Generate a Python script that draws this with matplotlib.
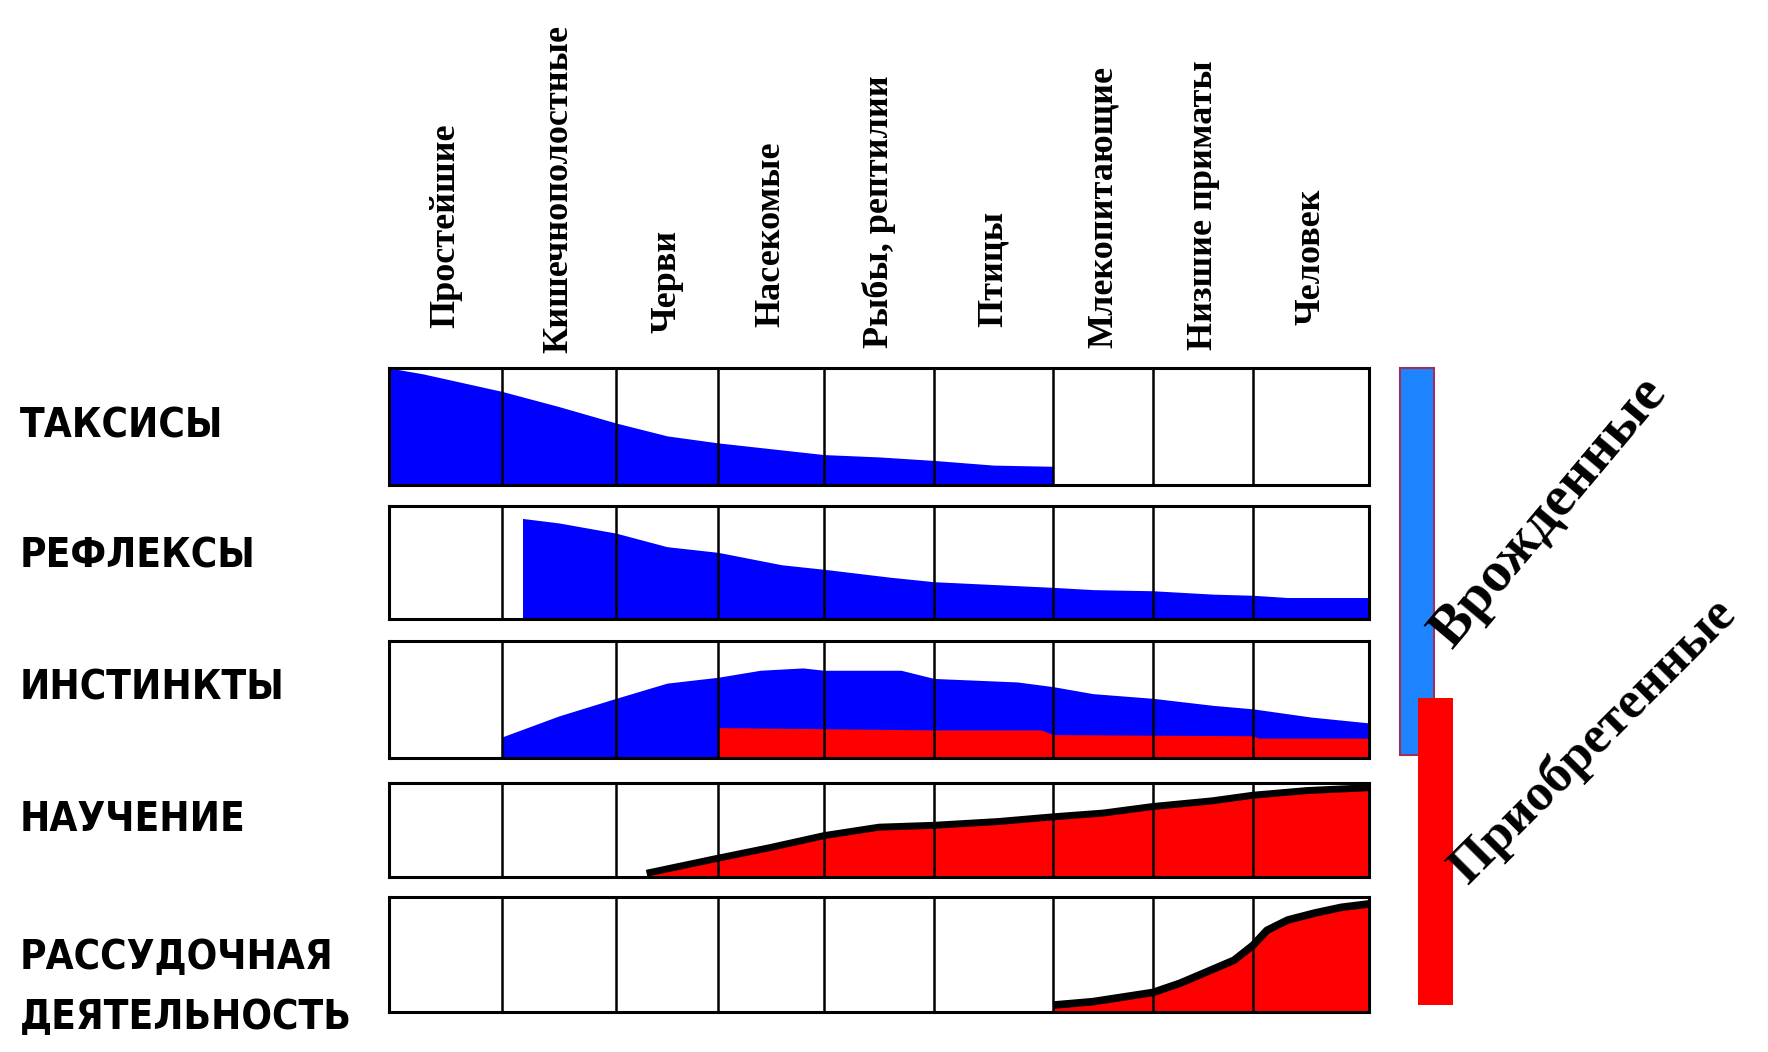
import numpy as np
import matplotlib
matplotlib.use("Agg")
import matplotlib.pyplot as plt
from matplotlib import transforms
from matplotlib.patches import Rectangle

# groups of animals (columns) and forms of behaviour (rows)
columns = ["Простейшие", "Кишечнополостные", "Черви", "Насекомые", "Рыбы, рептилии",
           "Птицы", "Млекопитающие", "Низшие приматы", "Человек"]
rows = ["ТАКСИСЫ", "РЕФЛЕКСЫ", "ИНСТИНКТЫ", "НАУЧЕНИЕ", "РАССУДОЧНАЯ\nДЕЯТЕЛЬНОСТЬ"]
side_labels = ["Врожденные", "Приобретенные"]

# profiles: x in column units (0..9), y as share of the row height
taxis_x = [0, 0.3, 1, 1.5, 2, 2.5, 3, 3.5, 4, 4.5, 5, 5.5, 6]
taxis_y = [1.0, 0.95, 0.80, 0.67, 0.53, 0.42, 0.36, 0.31, 0.26, 0.24, 0.21, 0.17, 0.16]

reflex_x = [1.18, 1.5, 2, 2.5, 3, 3.6, 4, 4.6, 5, 5.6, 6, 6.4, 7, 7.6, 8, 8.3, 9]
reflex_y = [0.89, 0.85, 0.76, 0.64, 0.59, 0.48, 0.44, 0.37, 0.33, 0.30, 0.28, 0.26,
            0.25, 0.22, 0.21, 0.19, 0.19]

instinct_x = [1, 1.5, 2, 2.5, 3, 3.4, 3.8, 4, 4.7, 5, 5.7, 6, 6.4, 7, 7.6, 8, 8.5, 9]
instinct_y = [0.18, 0.36, 0.51, 0.64, 0.69, 0.75, 0.77, 0.75, 0.75, 0.68, 0.65, 0.61,
              0.55, 0.51, 0.45, 0.42, 0.35, 0.30]
instinct_acq_x = [3, 4, 5, 5.9, 6, 8, 8.05, 9]
instinct_acq_y = [0.26, 0.25, 0.24, 0.24, 0.20, 0.19, 0.17, 0.17]

learning_x = [2.3, 3, 3.48, 4, 4.5, 5, 5.54, 6, 6.5, 7, 7.59, 8, 8.47, 9]
learning_y = [0.04, 0.20, 0.31, 0.44, 0.53, 0.55, 0.59, 0.64, 0.68, 0.75, 0.81, 0.87,
              0.92, 0.95]

reason_x = [6, 6.4, 6.7, 7, 7.27, 7.54, 7.81, 8, 8.12, 8.3, 8.53, 8.76, 9]
reason_y = [0.06, 0.09, 0.13, 0.17, 0.25, 0.35, 0.45, 0.58, 0.71, 0.80, 0.86, 0.91, 0.94]

BLUE = "#0000FF"
RED = "#FF0000"

# layout in pixels of the 1768x1052 picture
W, H = 1768, 1052
col_edges = np.array([389, 502, 616, 718, 824, 934, 1053, 1153, 1253, 1369])
row_tops = [368, 506, 641, 783, 897]
row_bottoms = [485, 619, 758, 877, 1012]
label_y = [426, 556, 688, 820, 988]
title_bottoms = [328, 353, 333, 327, 348, 327, 348, 350, 325]

col_idx = np.arange(len(col_edges))


def fwd(x):
    return np.interp(x, col_idx, col_edges)


def inv(x):
    return np.interp(x, col_edges, col_idx)


fig = plt.figure(figsize=(W / 100, H / 100), dpi=100)
fig.patch.set_facecolor("white")

ov = fig.add_axes([0, 0, 1, 1])
ov.set_xlim(0, W)
ov.set_ylim(H, 0)
ov.axis("off")

axes = []
for top, bottom in zip(row_tops, row_bottoms):
    ax = fig.add_axes([col_edges[0] / W, 1 - bottom / H,
                       (col_edges[-1] - col_edges[0]) / W, (bottom - top) / H])
    ax.set_xscale("function", functions=(fwd, inv))
    ax.set_xlim(0, 9)
    ax.set_ylim(0, 1)
    ax.set_xticks([])
    ax.set_yticks([])
    ax.minorticks_off()
    for s in ax.spines.values():
        s.set_linewidth(2.2)
        s.set_color("black")
    ax.vlines(np.arange(1, 9), 0, 1, colors="black", linewidth=1.8, zorder=2)
    axes.append(ax)

# taxes, reflexes, instincts
axes[0].fill_between(taxis_x, 0, taxis_y, color=BLUE, linewidth=0, zorder=1)
axes[1].fill_between(reflex_x, 0, reflex_y, color=BLUE, linewidth=0, zorder=1)
axes[2].fill_between(instinct_x, 0, instinct_y, color=BLUE, linewidth=0, zorder=1)
axes[2].fill_between(instinct_acq_x, 0, instinct_acq_y, color=RED, linewidth=0, zorder=1.5)

# learning and reasoning
axes[3].fill_between(learning_x, 0, learning_y, color=RED, linewidth=0, zorder=1)
axes[3].plot(learning_x, learning_y, color="black", linewidth=5, zorder=3,
             solid_capstyle="butt", clip_on=False)
axes[4].fill_between(reason_x, 0, reason_y, color=RED, linewidth=0, zorder=1)
axes[4].plot(reason_x, reason_y, color="black", linewidth=5.5, zorder=3,
             solid_capstyle="butt", clip_on=False)

# column titles
trans = transforms.blended_transform_factory(axes[0].transData, ov.transData)
for i, (name, yb) in enumerate(zip(columns, title_bottoms)):
    axes[0].text(i + 0.5, yb, name, transform=trans, rotation=90,
                 ha="center", va="bottom", family="Liberation Serif",
                 fontweight="bold", fontsize=26, clip_on=False)

# row titles
for name, y in zip(rows, label_y):
    ov.text(20, y, name, ha="left", va="center", family="DejaVu Sans",
            fontstretch="condensed", fontweight="bold", fontsize=29,
            linespacing=1.65)

# innate / acquired bars
ov.add_patch(Rectangle((1400, 368), 34, 387, facecolor="#1E84FF",
                       edgecolor="#A0305A", linewidth=1.5))
ov.add_patch(Rectangle((1418, 698), 35, 307, facecolor=RED, edgecolor="none"))

ov.text(1452, 650, side_labels[0], rotation=50, rotation_mode="anchor",
        ha="left", va="baseline", family="Liberation Serif", fontweight="bold",
        fontsize=42)
ov.text(1468, 885, side_labels[1], rotation=45, rotation_mode="anchor",
        ha="left", va="baseline", family="Liberation Serif", fontweight="bold",
        fontsize=38)

fig.savefig("out.png", dpi=100)
